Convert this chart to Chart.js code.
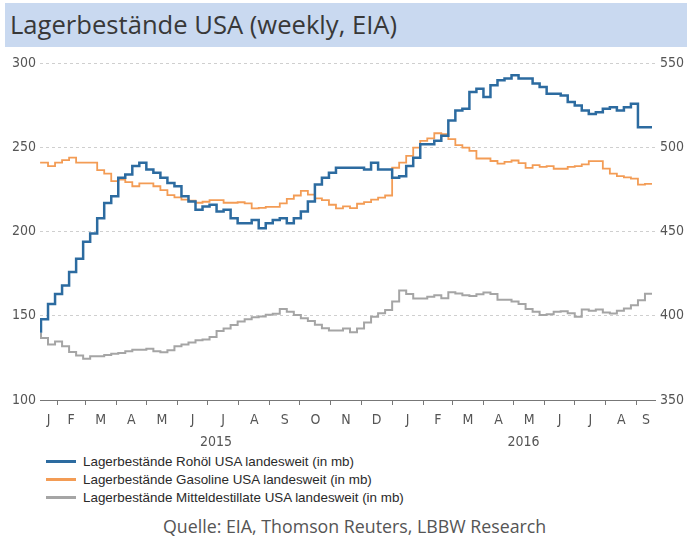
<!DOCTYPE html>
<html>
<head>
<meta charset="utf-8">
<script src="https://cdn.jsdelivr.net/npm/chart.js@4/dist/chart.umd.min.js"></script>
<style>
  body { margin: 0; background: #fff; width: 687px; height: 537px; overflow: hidden; position: relative; font-family: "Open Sans", sans-serif; }
  #title { position: absolute; left: 5px; top: 3px; width: 682px; height: 44px; background: #c9d9f0; color: #383838; font-size: 25.6px; line-height: 44px; padding-left: 5px; box-sizing: border-box; }
  #wrap { position: absolute; left: 0; top: 50px; width: 687px; height: 400px; }
  #legend { position: absolute; left: 46px; top: 452px; font-family: "Liberation Sans", sans-serif; font-size: 13.4px; color: #2a2a2a; }
  #legend .item { height: 18.3px; display: flex; align-items: center; }
  #legend .sw { display: inline-block; width: 30px; height: 3px; margin-right: 7px; }
  #source { position: absolute; left: 163px; top: 514px; font-size: 17.8px; color: #555; white-space: nowrap; }
</style>
</head>
<body>
<div id="title">Lagerbestände USA (weekly, EIA)</div>
<div id="wrap"><canvas id="chart"></canvas></div>
<div id="legend"></div>
<div id="source">Quelle: EIA, Thomson Reuters, LBBW Research</div>
<script>
// weekly EIA data, first week ending 16 Jan 2015
const firstWeek = Date.UTC(2015, 0, 16);

// crude (right axis, mb)
const crude = [390, 398, 407, 413, 418, 426, 434, 444, 449, 458,
  467, 471, 482, 484, 489, 491, 487, 485, 482, 479,
  477, 471, 468, 463, 465, 466, 462, 463, 458, 455,
  455, 457, 452, 455, 457, 458, 455, 458, 462, 468,
  478, 482, 485, 488, 488, 488, 488, 487, 491, 487,
  487, 482, 483, 489, 494, 502, 502, 504, 507, 516,
  522, 523, 533, 535, 530, 537, 540, 541, 543, 541,
  541, 538, 536, 532, 532, 531, 527, 525, 522, 520,
  521, 523, 524, 522, 524, 526, 512, 512];

// gasoline (left axis, mb)
const gasoline = [241.5, 241, 239, 241, 242.5, 244, 241, 241, 241, 236.6,
  234.5, 230, 231, 229.5, 227, 228.7, 228.7, 227, 224.7, 221.7,
  220.4, 219, 218.5, 217.2, 217.8, 218.8, 218.8, 217.2, 217.2, 217.5,
  216.8, 213.8, 214.2, 214.8, 214.8, 216.8, 219.5, 221.5, 224.3, 222,
  219.8, 218.8, 216, 213.8, 215, 214, 216.6, 217.6, 219, 220.2,
  221.5, 238, 241, 245, 250, 254, 255.5, 258.5, 258, 255,
  251.5, 250, 248, 243.5, 243.5, 242, 240.5, 241.5, 242.3, 240.8,
  237.9, 239.5, 238.5, 239, 237.4, 237.4, 238.5, 239, 240, 241.9,
  241.9, 237.5, 234.5, 233, 232.3, 231.5, 228, 228.4];

// middle distillates (left axis, mb)
const distillates = [140, 136.8, 133, 134.8, 132, 128.5, 126.5, 124.5, 126, 126,
  126.7, 127.5, 127.9, 129, 129.8, 129.8, 130.5, 128.9, 128.3, 129.5,
  132, 133, 134.2, 135.5, 136, 137.5, 141, 142.5, 144.5, 146.6,
  148, 149.2, 149.6, 150.6, 151.2, 154, 152.5, 150.5, 148.5, 147,
  144.7, 142.7, 141.3, 141.3, 142.5, 140.3, 142.5, 146, 149.4, 151.5,
  153.5, 158.5, 165, 163, 160.3, 160.3, 161.3, 162.3, 160.5, 164,
  163.3, 162.3, 161.8, 162.8, 163.8, 163, 159.5, 159.5, 158.5, 157,
  154, 152.5, 150.5, 151, 152.4, 152.8, 151.5, 149.4, 153.8, 153,
  153.8, 152, 151.4, 153, 154.3, 156.3, 159.3, 163.2];

const seriesNames = [
  'Lagerbestände Rohöl USA landesweit (in mb)',
  'Lagerbestände Gasoline USA landesweit (in mb)',
  'Lagerbestände Mitteldestillate USA landesweit (in mb)'
];

const monthLetters = ['J', 'F', 'M', 'A', 'M', 'J', 'J', 'A', 'S', 'O', 'N', 'D',
  'J', 'F', 'M', 'A', 'M', 'J', 'J', 'A', 'S'];
const yearLabels = ['2015', '2016'];

const leftTicks = [100, 150, 200, 250, 300];
const rightTicks = [350, 400, 450, 500, 550];

// x axis works in days since 1 Jan 2015
const DAY = 86400000;
const origin = Date.UTC(2015, 0, 1);
const toDay = t => (t - origin) / DAY;
const xMin = 14, xMax = 627;

const weekDay = crude.map((v, i) => toDay(firstWeek) + 7 * i);
const pts = arr => arr.map((v, i) => ({ x: weekDay[i], y: v }));

const monthStart = monthLetters.map((m, i) => toDay(Date.UTC(2015, i, 1)));
const monthTicks = monthStart.slice(1);
const monthMid = monthLetters.map((m, i) => {
  const a = Math.max(monthStart[i], xMin);
  const b = Math.min(toDay(Date.UTC(2015, i + 1, 1)), xMax);
  return (a + b) / 2;
});
const yearMid = yearLabels.map((y, i) => {
  const a = Math.max(toDay(Date.UTC(2015 + i, 0, 1)), xMin);
  const b = Math.min(toDay(Date.UTC(2016 + i, 0, 1)), xMax);
  return (a + b) / 2;
});

const tickFont = { family: '"DejaVu Sans Condensed", "DejaVu Sans", sans-serif', size: 14 };
const tickColor = '#555';

const ctx = document.getElementById('chart');
const chart = new Chart(ctx, {
  type: 'line',
  data: {
    datasets: [
      {
        label: seriesNames[0],
        data: pts(crude),
        yAxisID: 'y1',
        borderColor: '#2c6ba0',
        borderWidth: 2.5,
        stepped: 'after',
        pointRadius: 0
      },
      {
        label: seriesNames[1],
        data: pts(gasoline),
        yAxisID: 'y',
        borderColor: '#f39c55',
        borderWidth: 1.8,
        stepped: 'after',
        pointRadius: 0
      },
      {
        label: seriesNames[2],
        data: pts(distillates),
        yAxisID: 'y',
        borderColor: '#a5a5a5',
        borderWidth: 2,
        stepped: 'after',
        pointRadius: 0
      }
    ]
  },
  options: {
    responsive: true,
    maintainAspectRatio: false,
    animation: false,
    layout: { padding: { top: 13, left: 0, right: 0, bottom: 0 } },
    plugins: {
      legend: { display: false },
      tooltip: { enabled: false }
    },
    scales: {
      x: {
        type: 'linear',
        position: 'bottom',
        weight: 0,
        min: xMin,
        max: xMax,
        afterBuildTicks: s => { s.ticks = monthTicks.map(v => ({ value: v })); },
        afterFit: s => { s.height = 6; },
        ticks: { display: false },
        grid: { drawOnChartArea: false, drawTicks: true, tickLength: 5, color: '#777' },
        border: { color: '#777', width: 1 }
      },
      xm: {
        type: 'linear',
        position: 'bottom',
        weight: 1,
        min: xMin,
        max: xMax,
        afterBuildTicks: s => { s.ticks = monthMid.map(v => ({ value: v })); },
        afterFit: s => { s.height = 26; },
        ticks: {
          autoSkip: false, maxRotation: 0, minRotation: 0, padding: 6,
          font: tickFont, color: tickColor,
          callback: (v, i) => monthLetters[i]
        },
        grid: { display: false, drawTicks: false },
        border: { display: false }
      },
      xy: {
        type: 'linear',
        position: 'bottom',
        weight: 2,
        min: xMin,
        max: xMax,
        afterBuildTicks: s => { s.ticks = yearMid.map(v => ({ value: v })); },
        afterFit: s => { s.height = 18; },
        ticks: {
          autoSkip: false, maxRotation: 0, minRotation: 0, padding: 2,
          font: tickFont, color: tickColor,
          callback: (v, i) => yearLabels[i]
        },
        grid: { display: false, drawTicks: false },
        border: { display: false }
      },
      y: {
        position: 'left',
        min: 100,
        max: 300,
        afterBuildTicks: s => { s.ticks = leftTicks.map(v => ({ value: v })); },
        afterFit: s => { s.width = 40; },
        ticks: { padding: 4, font: tickFont, color: tickColor },
        grid: {
          drawTicks: false,
          color: c => (c.tick && c.tick.value === 100) ? 'rgba(0,0,0,0)' : '#cfcfcf'
        },
        border: { display: false, dash: [3, 3] }
      },
      y1: {
        position: 'right',
        min: 350,
        max: 550,
        afterBuildTicks: s => { s.ticks = rightTicks.map(v => ({ value: v })); },
        afterFit: s => { s.width = 32; },
        ticks: { padding: 5, font: tickFont, color: tickColor },
        grid: { drawOnChartArea: false, drawTicks: false },
        border: { display: false }
      }
    }
  }
});

// legend built from the chart's datasets
const legend = document.getElementById('legend');
chart.data.datasets.forEach(ds => {
  const row = document.createElement('div');
  row.className = 'item';
  const sw = document.createElement('span');
  sw.className = 'sw';
  sw.style.background = ds.borderColor;
  const txt = document.createElement('span');
  txt.textContent = ds.label;
  row.appendChild(sw);
  row.appendChild(txt);
  legend.appendChild(row);
});
</script>
</body>
</html>
